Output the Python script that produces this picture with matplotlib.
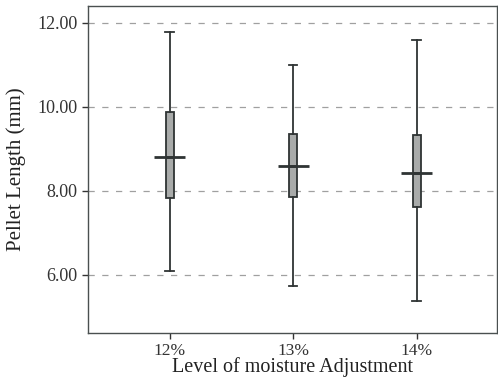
import numpy as np
import matplotlib.pyplot as plt
from matplotlib.ticker import FormatStrFormatter

# moisture levels and box statistics (mm)
levels = ['12%', '13%', '14%']
whisker_low = [6.10, 5.74, 5.38]
q1 = [7.83, 7.86, 7.62]
median = [8.81, 8.60, 8.43]
q3 = [9.88, 9.36, 9.33]
whisker_high = [11.79, 11.00, 11.60]

plt.rcParams['font.family'] = ['Liberation Serif', 'DejaVu Serif']

fig = plt.figure(figsize=(4.98, 3.79), dpi=100)
ax = fig.add_axes([88 / 498, 1 - 333 / 379, 409 / 498, 327 / 379])

stats = []
for i, lab in enumerate(levels):
    stats.append({'label': lab, 'whislo': whisker_low[i], 'q1': q1[i], 'med': median[i],
                  'q3': q3[i], 'whishi': whisker_high[i], 'fliers': []})

pos = np.arange(len(levels))
ax.bxp(stats, positions=pos, widths=0.065, patch_artist=True, showfliers=False,
       boxprops=dict(facecolor='#a9abaa', edgecolor='#2f3434', linewidth=1.3),
       whiskerprops=dict(color='#2f3434', linewidth=1.3),
       capprops=dict(color='#2f3434', linewidth=1.3),
       medianprops=dict(color='#2f3434', linewidth=2.0), capwidths=0.07)

# wider median bars
for i in pos:
    ax.hlines(median[i], i - 0.125, i + 0.125, color='#2f3434', linewidth=2.0, zorder=4)

ax.set_xlim(-0.66, 2.65)
ax.set_ylim(4.62, 12.40)
ax.set_yticks([6, 8, 10, 12])
ax.yaxis.set_major_formatter(FormatStrFormatter('%.2f'))
ax.set_xticks(pos)
ax.set_xticklabels(levels)
ax.grid(axis='y', linestyle=(0, (5, 6)), color='#a0a0a0', linewidth=0.9)
ax.set_axisbelow(True)

for s in ax.spines.values():
    s.set_color('#4a5050')
    s.set_linewidth(1.0)

ax.tick_params(axis='both', labelsize=13, colors='#333333', length=4, width=1.0)
ax.tick_params(axis='x', labelsize=12.5, pad=3)
ax.set_xlabel('Level of moisture Adjustment', fontsize=14.5, labelpad=-1, color='#222222')
ax.set_ylabel('Pellet Length (mm)', fontsize=15, labelpad=8, color='#222222')

fig.savefig('out.png', dpi=100)
